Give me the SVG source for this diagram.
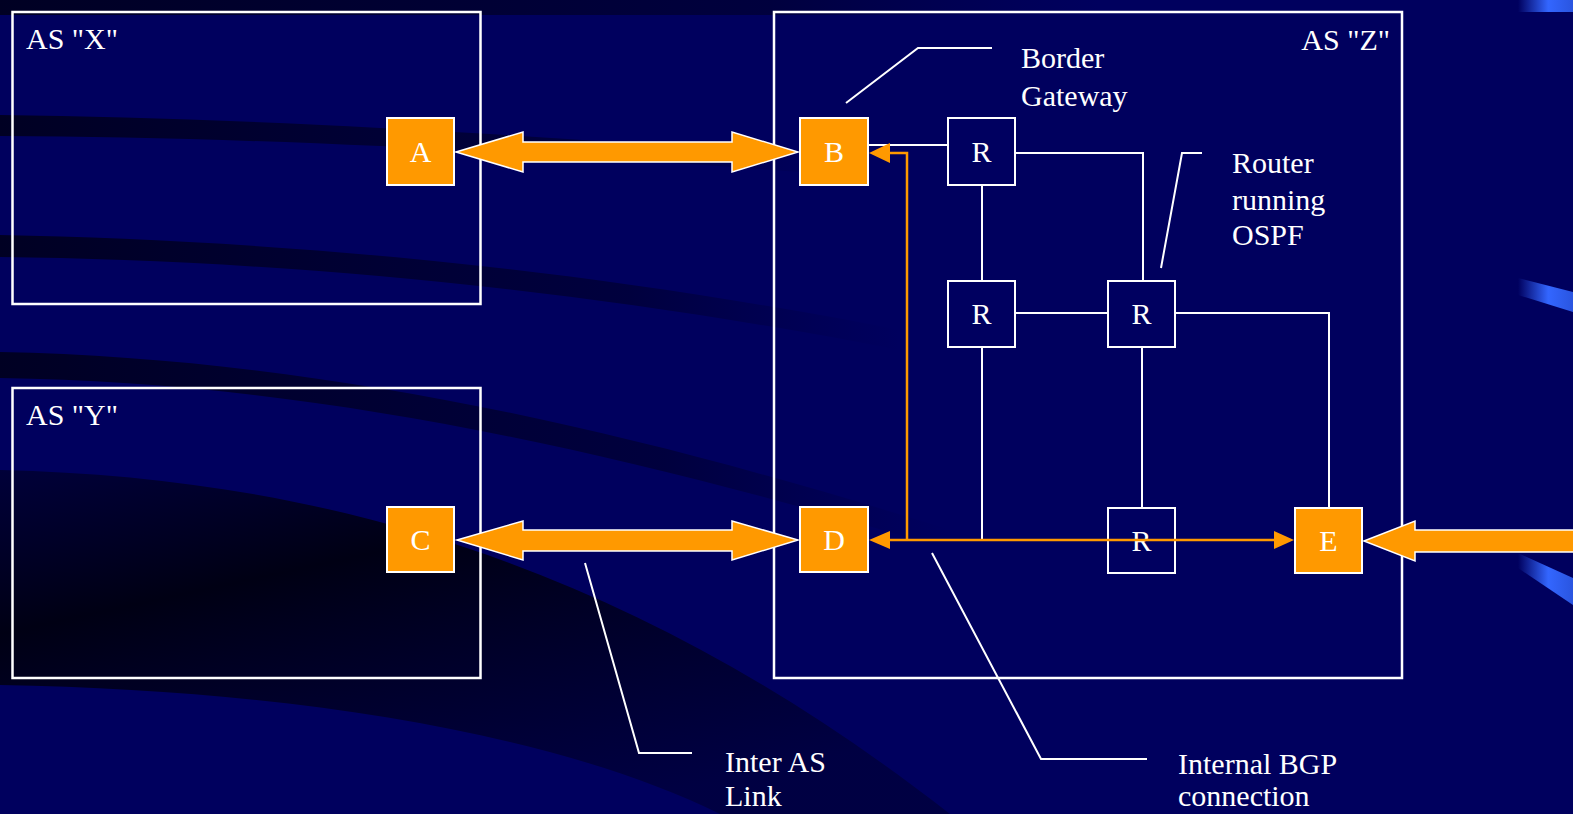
<svg xmlns="http://www.w3.org/2000/svg" width="1573" height="814" viewBox="0 0 1573 814">
<defs>
<style>
.box{fill:none;stroke:#fff;stroke-width:2.5}
.ob{fill:#FF9900;stroke:#fff;stroke-width:2}
.rb{fill:#000060;stroke:#fff;stroke-width:2}
.t{font-family:"Liberation Serif","Times New Roman",serif;font-size:30px;fill:#fff}
.c{text-anchor:middle}
.w{fill:none;stroke:#fff;stroke-width:2}
.o{fill:none;stroke:#FF9900;stroke-width:2.5}
.oh{fill:#FF9900}
.big{fill:#FF9900;stroke:#fff;stroke-width:1.5;stroke-linejoin:miter}
</style>
<linearGradient id="fadeR" x1="0" y1="0" x2="1" y2="0">
<stop offset="0" stop-color="#000020" stop-opacity="0.95"/>
<stop offset="0.7" stop-color="#000030" stop-opacity="0.7"/>
<stop offset="1" stop-color="#000040" stop-opacity="0"/>
</linearGradient>
<linearGradient id="darkReg" x1="0" y1="0" x2="0.6" y2="1">
<stop offset="0" stop-color="#000030" stop-opacity="0.8"/>
<stop offset="0.35" stop-color="#000010" stop-opacity="0.95"/>
<stop offset="1" stop-color="#000030" stop-opacity="0.6"/>
</linearGradient>
<linearGradient id="blueS" x1="0" y1="0" x2="1" y2="0">
<stop offset="0" stop-color="#3366ff" stop-opacity="0"/>
<stop offset="0.55" stop-color="#3366ff" stop-opacity="1"/>
<stop offset="1" stop-color="#2a55e0" stop-opacity="1"/>
</linearGradient>
</defs>
<g id="background">
<rect x="0" y="0" width="1573" height="814" fill="#00005e"/>
<rect x="0" y="0" width="1100" height="15" fill="url(#fadeR)"/>
<path d="M0,115 C250,118 550,135 850,160 L850,176 C550,152 250,137 0,136 Z" fill="url(#fadeR)"/>
<path d="M0,235 C250,240 550,262 900,330 L900,350 C550,282 250,260 0,257 Z" fill="url(#fadeR)"/>
<path d="M0,352 C300,358 600,420 950,530 L950,550 C600,445 300,382 0,378 Z" fill="url(#fadeR)"/>
<path d="M0,470 C350,478 650,580 950,814 L720,814 C560,735 300,690 0,685 Z" fill="url(#darkReg)"/>
<path d="M1518,0 L1573,0 L1573,12 L1518,12 Z" fill="url(#blueS)"/>
<path d="M1518,278 L1573,292 L1573,312 L1518,295 Z" fill="url(#blueS)"/>
<path d="M1518,553 L1573,578 L1573,605 L1518,568 Z" fill="url(#blueS)"/>
</g>
<g id="as-x">
<rect class="box" x="12.5" y="12" width="468" height="292"/>
<text class="t" x="26" y="49">AS "X"</text>
</g>
<g id="as-y">
<rect class="box" x="12.5" y="388" width="468" height="290"/>
<text class="t" x="26" y="425">AS "Y"</text>
</g>
<g id="as-z">
<rect class="box" x="774" y="12" width="628" height="666"/>
<text class="t" x="1390" y="50" text-anchor="end">AS "Z"</text>
</g>
<g id="connectors">
<polygon class="big" points="456,152 523,132 523,142 732,142 732,132 798,152 732,172 732,162 523,162 523,172"/>
<polygon class="big" points="457,540 523,521 523,530 732,530 732,521 798,540 732,560 732,551 523,551 523,560"/>
<polygon class="big" points="1364,541 1415,521 1415,530 1580,530 1580,552 1415,552 1415,561"/>
<line class="w" x1="868" y1="145" x2="948" y2="145"/>
<polyline class="w" points="1015,153 1143,153 1143,281"/>
<line class="w" x1="982" y1="185" x2="982" y2="281"/>
<line class="w" x1="1015" y1="313" x2="1108" y2="313"/>
<polyline class="w" points="1175,313 1329,313 1329,508"/>
<line class="w" x1="1142" y1="347" x2="1142" y2="508"/>
<line class="w" x1="982" y1="347" x2="982" y2="540"/>
<polyline class="w" points="846,103 918,48 992,48"/>
<polyline class="w" points="1161,268 1182,153 1202,153"/>
<polyline class="w" points="585,563 639,753 692,753"/>
<polyline class="w" points="932,553 1041,759 1147,759"/>
</g>
<g id="node-a"><rect class="ob" x="387" y="118" width="67" height="67"/><text class="t c" x="420.5" y="162">A</text></g>
<g id="node-b"><rect class="ob" x="800" y="118" width="68" height="67"/><text class="t c" x="834" y="162">B</text></g>
<g id="node-c"><rect class="ob" x="387" y="507" width="67" height="65"/><text class="t c" x="420.5" y="550">C</text></g>
<g id="node-d"><rect class="ob" x="800" y="507" width="68" height="65"/><text class="t c" x="834" y="550">D</text></g>
<g id="node-e"><rect class="ob" x="1295" y="508" width="67" height="65"/><text class="t c" x="1328.5" y="551">E</text></g>
<g id="node-r1"><rect class="rb" x="948" y="118" width="67" height="67"/><text class="t c" x="981.5" y="162">R</text></g>
<g id="node-r2"><rect class="rb" x="948" y="281" width="67" height="66"/><text class="t c" x="981.5" y="324">R</text></g>
<g id="node-r3"><rect class="rb" x="1108" y="281" width="67" height="66"/><text class="t c" x="1141.5" y="324">R</text></g>
<g id="node-r4"><rect class="rb" x="1108" y="508" width="67" height="65"/><text class="t c" x="1141.5" y="551">R</text></g>
<g id="ibgp">
<polyline class="o" points="888,153 907,153 907,540"/>
<line class="o" x1="888" y1="540" x2="1276" y2="540"/>
<polygon class="oh" points="869,153 890,143 890,163"/>
<polygon class="oh" points="869,540 890,531 890,549"/>
<polygon class="oh" points="1294,540 1274,531 1274,549"/>
</g>
<g id="labels">
<text class="t" x="1021" y="68">Border</text>
<text class="t" x="1021" y="106">Gateway</text>
<text class="t" x="1232" y="173">Router</text>
<text class="t" x="1232" y="210">running</text>
<text class="t" x="1232" y="245">OSPF</text>
<text class="t" x="725" y="772">Inter AS</text>
<text class="t" x="725" y="806">Link</text>
<text class="t" x="1178" y="774">Internal BGP</text>
<text class="t" x="1178" y="806">connection</text>
</g>
</svg>
